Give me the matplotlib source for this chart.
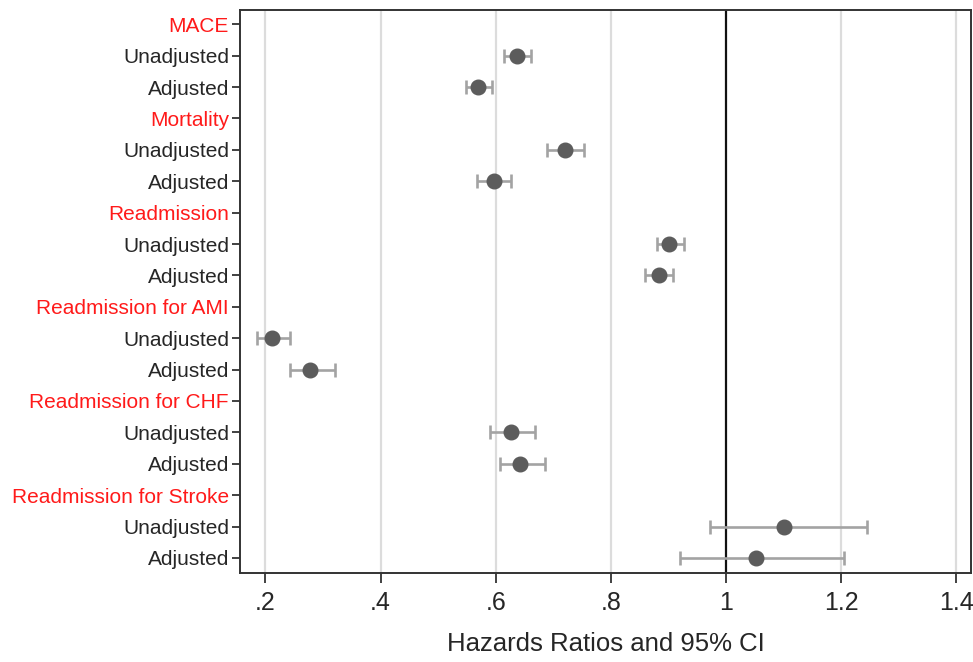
import matplotlib.pyplot as plt
import numpy as np

plt.rcParams['font.family'] = ['Liberation Sans', 'DejaVu Sans']

labels = ["MACE", "Unadjusted", "Adjusted",
          "Mortality", "Unadjusted", "Adjusted",
          "Readmission", "Unadjusted", "Adjusted",
          "Readmission for AMI", "Unadjusted", "Adjusted",
          "Readmission for CHF", "Unadjusted", "Adjusted",
          "Readmission for Stroke", "Unadjusted", "Adjusted"]
is_header = [True, False, False] * 6

# hazard ratios and 95% CI (None for header rows)
hr = [None, 0.637, 0.570,
      None, 0.721, 0.597,
      None, 0.901, 0.884,
      None, 0.211, 0.277,
      None, 0.627, 0.642,
      None, 1.101, 1.052]
lo = [None, 0.615, 0.549,
      None, 0.690, 0.568,
      None, 0.881, 0.859,
      None, 0.185, 0.243,
      None, 0.590, 0.608,
      None, 0.972, 0.921]
hi = [None, 0.661, 0.594,
      None, 0.754, 0.626,
      None, 0.927, 0.908,
      None, 0.243, 0.321,
      None, 0.668, 0.686,
      None, 1.246, 1.205]

xticks = [0.2, 0.4, 0.6, 0.8, 1.0, 1.2, 1.4]
xticklabels = [".2", ".4", ".6", ".8", "1", "1.2", "1.4"]

fig = plt.figure(figsize=(9.73, 6.62), dpi=100)
ax = fig.add_axes([240 / 973, 1 - 573 / 662, 731 / 973, 563 / 662])

for x in xticks:
    if x != 1.0:
        ax.axvline(x, color="#dcdcdc", lw=1.6, zorder=0)
ax.axvline(1.0, color="#111111", lw=1.6, zorder=1)

rows = [i for i in range(len(labels)) if hr[i] is not None]
y = np.array(rows)
est = np.array([hr[i] for i in rows])
err = np.array([[hr[i] - lo[i] for i in rows], [hi[i] - hr[i] for i in rows]])
ax.errorbar(est, y, xerr=err, fmt="none", ecolor="#a3a3a3", elinewidth=1.9,
            capsize=5, capthick=1.9, zorder=2)
ax.plot(est, y, "o", color="#5c5c5c", markersize=10.5, zorder=3)

ax.set_xlim(0.1557, 1.426)
ax.set_ylim(17.48, -0.455)
ax.set_yticks(range(len(labels)))
ax.set_yticklabels(labels, fontsize=15)
for t, h in zip(ax.get_yticklabels(), is_header):
    t.set_color("#ff1a1a" if h else "#262626")
ax.set_xticks(xticks)
ax.set_xticklabels(xticklabels, fontsize=18, color="#262626")
ax.tick_params(axis="y", length=6, width=1.3, color="#333333", pad=2)
ax.tick_params(axis="x", length=7, width=1.3, color="#333333", pad=6)
ax.set_xlabel("Hazards Ratios and 95% CI", fontsize=18.5, color="#262626", labelpad=12)

for s in ax.spines.values():
    s.set_color("#333333")
    s.set_linewidth(1.4)

fig.savefig("out.png", dpi=100)
